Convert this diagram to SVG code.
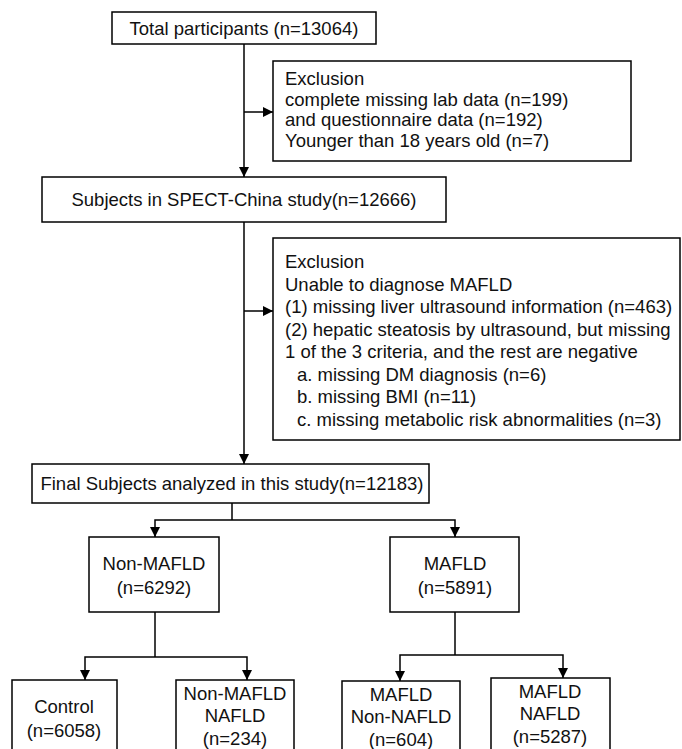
<svg xmlns="http://www.w3.org/2000/svg" width="682" height="749" viewBox="0 0 682 749">
<defs>
<marker id="ah" viewBox="0 0 10 10" refX="10" refY="5" markerWidth="10" markerHeight="10" markerUnits="userSpaceOnUse" orient="auto">
<path d="M0,0 L10,5 L0,10 z" fill="#000"/>
</marker>
<style>
.box{fill:#fff;stroke:#000;stroke-width:1.5}
.t{font-family:"Liberation Sans",Arial,sans-serif;font-size:18.5px;fill:#111}
.c{text-anchor:middle}
.ln{fill:none;stroke:#000;stroke-width:1.5}
.ar{fill:none;stroke:#000;stroke-width:1.5;marker-end:url(#ah)}
</style>
</defs>
<rect width="682" height="749" fill="#fff"/>
<g id="connectors">
<line class="ar" x1="244" y1="44" x2="244" y2="177"/>
<line class="ar" x1="244" y1="112" x2="273" y2="112"/>
<line class="ar" x1="244" y1="222" x2="244" y2="464"/>
<line class="ar" x1="244" y1="311" x2="273" y2="311"/>
<polyline class="ln" points="232,503 232,520"/>
<polyline class="ar" points="232,520 155,520 155,537"/>
<polyline class="ar" points="232,520 455,520 455,537"/>
<polyline class="ln" points="155,612 155,657"/>
<polyline class="ar" points="155,657 85,657 85,680"/>
<polyline class="ar" points="155,657 247,657 247,680"/>
<polyline class="ln" points="455,612 455,655"/>
<polyline class="ar" points="455,655 400,655 400,681"/>
<polyline class="ar" points="455,655 563,655 563,678"/>
</g>
<g id="total">
<rect class="box" x="112" y="12" width="264" height="32"/>
<text class="t c" x="244" y="35">Total participants (n=13064)</text>
</g>
<g id="exclusion1">
<rect class="box" x="273" y="61" width="358" height="100"/>
<text class="t" x="285" y="85">Exclusion</text>
<text class="t" x="285" y="106">complete missing lab data (n=199)</text>
<text class="t" x="285" y="126">and questionnaire data (n=192)</text>
<text class="t" x="285" y="147">Younger than 18 years old (n=7)</text>
</g>
<g id="spect">
<rect class="box" x="42" y="177" width="404" height="45"/>
<text class="t c" x="244" y="206">Subjects in SPECT-China study(n=12666)</text>
</g>
<g id="exclusion2">
<rect class="box" x="273" y="238" width="407" height="202"/>
<text class="t" x="285" y="268">Exclusion</text>
<text class="t" x="285" y="291">Unable to diagnose MAFLD</text>
<text class="t" x="285" y="313">(1) missing liver ultrasound information (n=463)</text>
<text class="t" x="285" y="336">(2) hepatic steatosis by ultrasound, but missing</text>
<text class="t" x="285" y="358">1 of the 3 criteria, and the rest are negative</text>
<text class="t" x="297" y="381">a. missing DM diagnosis (n=6)</text>
<text class="t" x="297" y="403">b. missing BMI (n=11)</text>
<text class="t" x="297" y="426">c. missing metabolic risk abnormalities (n=3)</text>
</g>
<g id="final">
<rect class="box" x="32" y="464" width="397" height="39"/>
<text class="t c" x="232" y="490">Final Subjects analyzed in this study(n=12183)</text>
</g>
<g id="nonmafld">
<rect class="box" x="89" y="537" width="130" height="75"/>
<text class="t c" x="154" y="570">Non-MAFLD</text>
<text class="t c" x="154" y="594">(n=6292)</text>
</g>
<g id="mafld">
<rect class="box" x="390" y="537" width="129" height="75"/>
<text class="t c" x="455" y="570">MAFLD</text>
<text class="t c" x="455" y="594">(n=5891)</text>
</g>
<g id="control">
<rect class="box" x="12" y="680" width="105" height="75"/>
<text class="t c" x="64" y="713">Control</text>
<text class="t c" x="64" y="737">(n=6058)</text>
</g>
<g id="nonmafld-nafld">
<rect class="box" x="176" y="680" width="118" height="75"/>
<text class="t c" x="235" y="700">Non-MAFLD</text>
<text class="t c" x="235" y="722">NAFLD</text>
<text class="t c" x="235" y="745">(n=234)</text>
</g>
<g id="mafld-nonnafld">
<rect class="box" x="342" y="681" width="118" height="75"/>
<text class="t c" x="401" y="701">MAFLD</text>
<text class="t c" x="401" y="723">Non-NAFLD</text>
<text class="t c" x="401" y="746">(n=604)</text>
</g>
<g id="mafld-nafld">
<rect class="box" x="491" y="678" width="119" height="75"/>
<text class="t c" x="550" y="698">MAFLD</text>
<text class="t c" x="550" y="720">NAFLD</text>
<text class="t c" x="550" y="743">(n=5287)</text>
</g>
</svg>
